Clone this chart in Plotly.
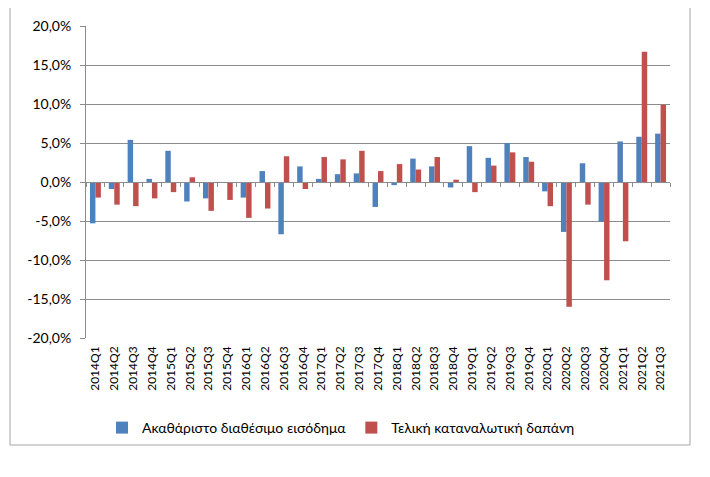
import plotly.graph_objects as go

quarters = ["2014Q1","2014Q2","2014Q3","2014Q4","2015Q1","2015Q2","2015Q3","2015Q4",
            "2016Q1","2016Q2","2016Q3","2016Q4","2017Q1","2017Q2","2017Q3","2017Q4",
            "2018Q1","2018Q2","2018Q3","2018Q4","2019Q1","2019Q2","2019Q3","2019Q4",
            "2020Q1","2020Q2","2020Q3","2020Q4","2021Q1","2021Q2","2021Q3"]

income = [-5.3, -0.9, 5.4, 0.4, 4.0, -2.5, -2.1, 0.0,
          -2.0, 1.4, -6.7, 2.0, 0.4, 1.0, 1.1, -3.2,
          -0.4, 3.0, 2.0, -0.7, 4.6, 3.1, 5.0, 3.2,
          -1.2, -6.4, 2.4, -5.1, 5.2, 5.8, 6.2]

consumption = [-2.0, -2.9, -3.1, -2.1, -1.3, 0.6, -3.7, -2.3,
               -4.6, -3.4, 3.3, -0.9, 3.2, 2.9, 4.0, 1.4,
               2.3, 1.6, 3.2, 0.3, -1.3, 2.1, 3.8, 2.6,
               -3.1, -16.0, -2.9, -12.6, -7.6, 16.7, 9.9]

y_ticks = [-20, -15, -10, -5, 0, 5, 10, 15, 20]
y_ticktext = ["-20,0%", "-15,0%", "-10,0%", "-5,0%", "0,0%", "5,0%", "10,0%", "15,0%", "20,0%"]

names = ["Ακαθάριστο διαθέσιμο εισόδημα", "Τελική καταναλωτική δαπάνη"]
colors = ["#4F81BD", "#C0504D"]

FONT = "Lato, 'Noto Sans', sans-serif"
GRID = "#8c8c8c"

fig = go.Figure()
fig.add_trace(go.Bar(x=quarters, y=income, name=names[0], marker=dict(color=colors[0], line=dict(width=0))))
fig.add_trace(go.Bar(x=quarters, y=consumption, name=names[1], marker=dict(color=colors[1], line=dict(width=0))))

OFF = 8  # default page body margin
W, H = 710 - OFF, 477 - OFF
L, T = 86 - OFF, 26 - OFF
R = W - (670 - OFF)
B = H - (338 - OFF)
pw, ph = W - L - R, H - T - B

def px_x(p):
    return (p - OFF - L) / pw

def px_y(p):
    return (H - B - (p - OFF)) / ph

fig.update_layout(
    width=W, height=H,
    margin=dict(l=L, r=R, t=T, b=B, pad=0),
    paper_bgcolor="white", plot_bgcolor="white",
    barmode="group", bargap=0.42, bargroupgap=0.0,
    font=dict(family=FONT, color="#000000"),
    showlegend=True,
    legend=dict(orientation="h", x=px_x(341), xanchor="center", y=px_y(428), yanchor="middle",
                font=dict(size=14, family=FONT), itemwidth=30, tracegroupgap=0,
                bgcolor="rgba(0,0,0,0)"),
    xaxis=dict(type="category", categoryorder="array", categoryarray=quarters,
               range=[-0.5, len(quarters) - 0.5],
               tickangle=-90, tickfont=dict(size=12, family=FONT), ticks="",
               showline=False, showgrid=False, zeroline=False, ticklabelstandoff=5,
               automargin=False),
    xaxis2=dict(overlaying="x", anchor="free", position=0.5, side="bottom",
                range=[-0.5, len(quarters) - 0.5], tick0=-0.5, dtick=1,
                ticks="outside", ticklen=4, tickcolor=GRID, tickwidth=1,
                showticklabels=False, showline=True, linecolor=GRID, linewidth=1,
                showgrid=False, zeroline=False),
    yaxis=dict(range=[-20, 20], tickvals=y_ticks, ticktext=y_ticktext,
               tickfont=dict(size=14, family=FONT), automargin=False,
               showgrid=True, gridcolor=GRID, gridwidth=1, zeroline=False,
               showline=True, linecolor=GRID, linewidth=1,
               ticks="outside", ticklen=5, tickcolor=GRID, ticklabelstandoff=6),
)

# invisible helper trace so the zero-line category axis is rendered
fig.add_trace(go.Scatter(x=[0], y=[0], xaxis="x2", mode="markers",
                         marker=dict(opacity=0), showlegend=False, hoverinfo="skip"))

# chart frame
fig.add_shape(type="rect", xref="paper", yref="paper",
              x0=px_x(10), x1=px_x(690), y0=px_y(445), y1=px_y(7),
              line=dict(color="#a6a6a6", width=1), fillcolor="rgba(0,0,0,0)", layer="below")

fig.write_html("out.html")
